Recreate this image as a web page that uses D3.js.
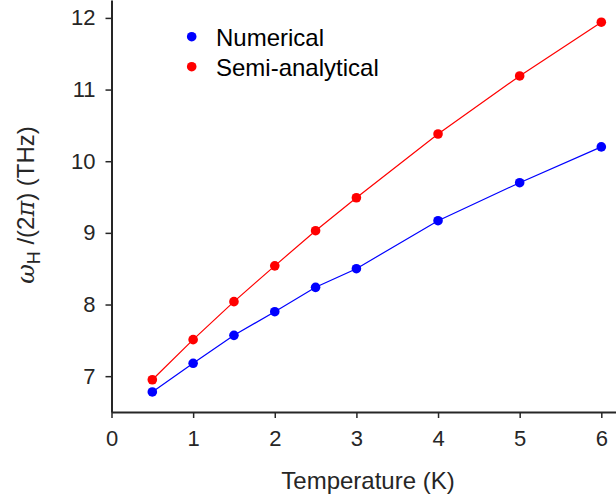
<!DOCTYPE html>
<html>
<head>
<meta charset="utf-8">
<script src="https://cdn.jsdelivr.net/npm/d3@7"></script>
<style>
  html, body { margin: 0; padding: 0; background: #fff; }
  svg { display: block; }
  text { font-family: "Liberation Sans", Arial, Helvetica, sans-serif; fill: #262626; }
</style>
</head>
<body>
<svg id="chart" width="616" height="502"></svg>
<script>
// Temperature (K)
const temperatures = [0.5, 1, 1.5, 2, 2.5, 3, 4, 5, 6];
// Frequency ω_H/(2π) in THz
const numerical     = [6.78, 7.18, 7.57, 7.90, 8.24, 8.50, 9.17, 9.70, 10.20];
const semiAnalytic  = [6.95, 7.51, 8.04, 8.54, 9.03, 9.49, 10.38, 11.19, 11.94];
const xTicks = [0, 1, 2, 3, 4, 5, 6];
const yTicks = [7, 8, 9, 10, 11, 12];
const seriesNames = ["Numerical", "Semi-analytical"];
const seriesColors = ["#0000ff", "#ff0000"];

const W = 616, H = 502;
const margin = { left: 111.5, top: 0, right: 0, bottom: 90 };
const svg = d3.select("#chart");

const x = d3.scaleLinear().domain([0, 6.18]).range([margin.left, W - margin.right]);
const y = d3.scaleLinear().domain([6.5, 12.25]).range([H - margin.bottom, margin.top]);

const axisColor = "#262626";
const tickFont = 22;
const titleFont = 24;

// x axis
const gx = svg.append("g")
  .attr("transform", `translate(0,${H - margin.bottom})`)
  .call(d3.axisBottom(x).tickValues(xTicks).tickFormat(d3.format("d"))
        .tickSizeInner(6).tickSizeOuter(0).tickPadding(12));
// y axis
const gy = svg.append("g")
  .attr("transform", `translate(${margin.left},0)`)
  .call(d3.axisLeft(y).tickValues(yTicks).tickFormat(d3.format("d"))
        .tickSizeInner(6).tickSizeOuter(0).tickPadding(10));

[gx, gy].forEach(g => {
  g.select(".domain").attr("stroke", axisColor).attr("stroke-width", 2);
  g.selectAll(".tick line").attr("stroke", axisColor).attr("stroke-width", 1.5);
  g.selectAll(".tick text").attr("fill", axisColor)
    .style("font-size", tickFont + "px")
    .style("font-family", '"Liberation Sans", Arial, sans-serif');
});

// x axis title
svg.append("text")
  .attr("x", 368).attr("y", 489)
  .attr("text-anchor", "middle")
  .style("font-size", titleFont + "px")
  .text("Temperature (K)");

// y axis title: ω_H/(2π) (THz)
const yl = svg.append("text")
  .attr("transform", `translate(34,205) rotate(-90)`)
  .attr("text-anchor", "middle")
  .style("font-size", titleFont + "px");
yl.append("tspan").text("ω")
  .style("font-family", '"DejaVu Serif", "Liberation Serif", serif')
  .style("font-style", "italic");
yl.append("tspan").text("H").attr("dy", 6).style("font-size", "18px");
yl.append("tspan").text(" /(2").attr("dy", -6);
yl.append("tspan").text("π")
  .style("font-family", '"DejaVu Serif", "Liberation Serif", serif')
  .style("font-style", "italic");
yl.append("tspan").text(") (THz)");

// series lines and markers
const seriesData = [numerical, semiAnalytic];
const line = d3.line().x((d, i) => x(temperatures[i])).y(d => y(d));

seriesData.forEach((vals, k) => {
  svg.append("path")
    .datum(vals)
    .attr("fill", "none")
    .attr("stroke", seriesColors[k])
    .attr("stroke-width", 1.2)
    .attr("d", line);
  svg.append("g").selectAll("circle")
    .data(vals)
    .join("circle")
    .attr("cx", (d, i) => x(temperatures[i]))
    .attr("cy", d => y(d))
    .attr("r", 4.8)
    .attr("fill", seriesColors[k]);
});

// legend
const legend = svg.append("g");
seriesNames.forEach((name, k) => {
  const cy = 36.7 + k * 30;
  legend.append("circle").attr("cx", 191.7).attr("cy", cy).attr("r", 4.8).attr("fill", seriesColors[k]);
  legend.append("text").attr("x", 216).attr("y", cy + 9)
    .style("font-size", "24px").style("fill", "#000")
    .text(name);
});
</script>
</body>
</html>
